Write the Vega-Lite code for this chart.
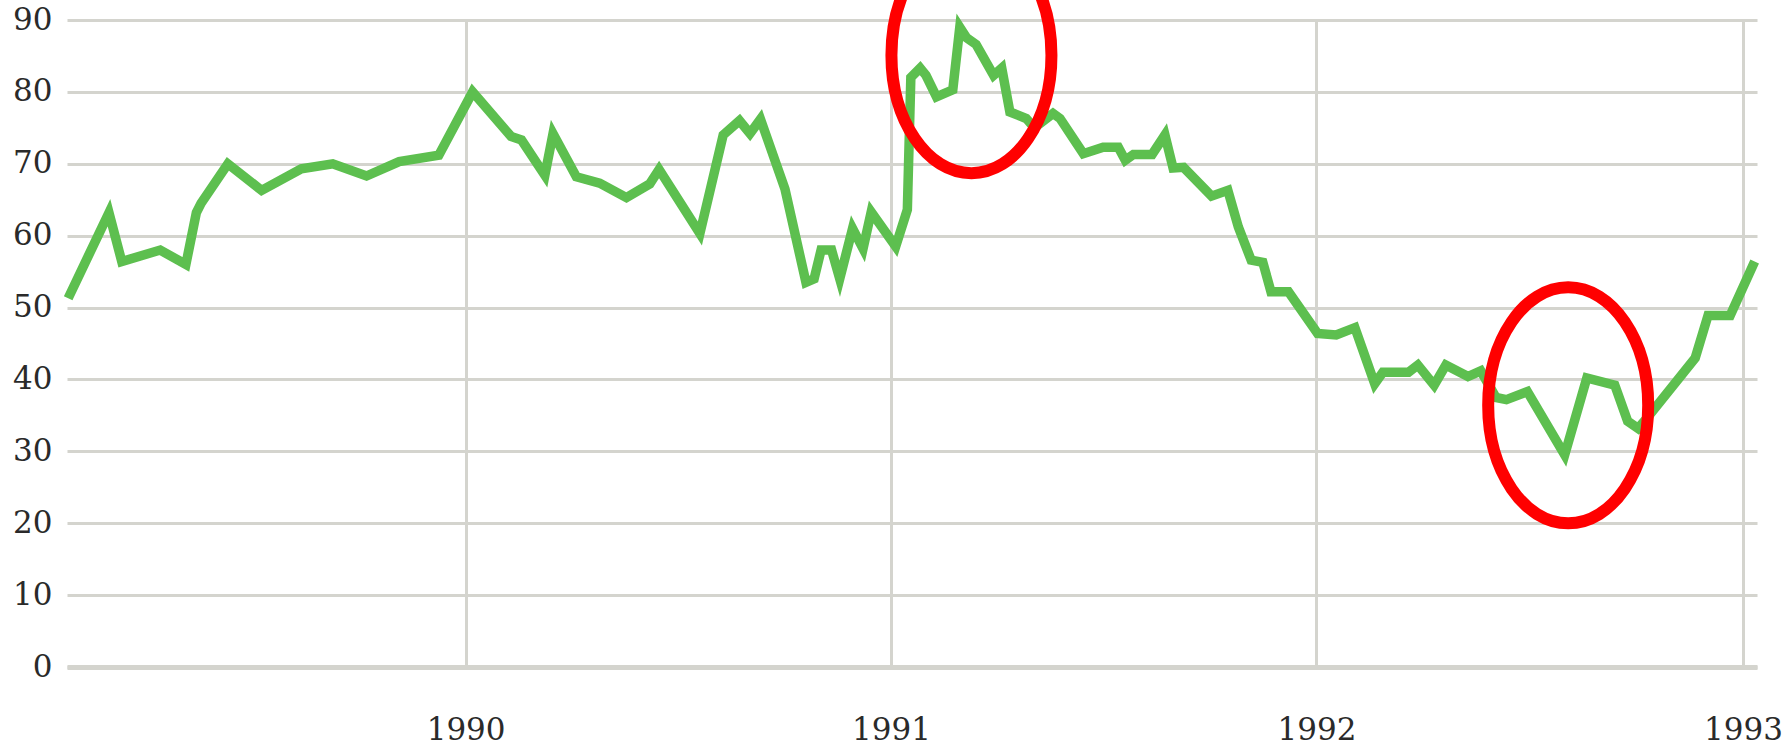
{
  "$schema": "https://vega.github.io/schema/vega-lite/v6.json",
  "width": 1690,
  "height": 647,
  "autosize": {"type": "none"},
  "padding": {"left": 67, "top": 20, "right": 32, "bottom": 85},
  "background": "white",
  "config": {
    "view": {"stroke": null},
    "axis": {
      "labelFont": "DejaVu Serif",
      "labelFontSize": 31,
      "labelColor": "#2a2a2a",
      "gridColor": "#d4d4ce",
      "gridWidth": 3,
      "gridOpacity": 1,
      "ticks": false,
      "title": null
    }
  },
  "layer": [
    {
      "data": {
        "values": [
          {"date": "1989-01-25", "value": 51.3},
          {"date": "1989-03-01", "value": 63.2},
          {"date": "1989-03-12", "value": 56.4},
          {"date": "1989-04-14", "value": 58.0},
          {"date": "1989-05-06", "value": 56.0},
          {"date": "1989-05-15", "value": 63.2},
          {"date": "1989-05-19", "value": 64.5},
          {"date": "1989-06-11", "value": 70.0},
          {"date": "1989-07-10", "value": 66.3},
          {"date": "1989-08-13", "value": 69.3},
          {"date": "1989-09-09", "value": 70.0},
          {"date": "1989-10-08", "value": 68.3},
          {"date": "1989-11-05", "value": 70.3},
          {"date": "1989-12-09", "value": 71.2},
          {"date": "1990-01-07", "value": 80.0},
          {"date": "1990-02-09", "value": 73.8},
          {"date": "1990-02-18", "value": 73.3},
          {"date": "1990-03-10", "value": 68.4},
          {"date": "1990-03-17", "value": 74.2},
          {"date": "1990-04-06", "value": 68.2},
          {"date": "1990-04-26", "value": 67.3},
          {"date": "1990-05-19", "value": 65.3},
          {"date": "1990-06-08", "value": 67.2},
          {"date": "1990-06-16", "value": 69.2},
          {"date": "1990-07-21", "value": 60.3},
          {"date": "1990-08-10", "value": 74.0},
          {"date": "1990-08-24", "value": 76.0},
          {"date": "1990-09-02", "value": 74.2},
          {"date": "1990-09-11", "value": 76.2},
          {"date": "1990-10-02", "value": 66.5},
          {"date": "1990-10-20", "value": 53.5},
          {"date": "1990-10-27", "value": 54.0},
          {"date": "1990-11-02", "value": 58.0},
          {"date": "1990-11-11", "value": 58.0},
          {"date": "1990-11-18", "value": 54.0},
          {"date": "1990-11-29", "value": 61.0},
          {"date": "1990-12-08", "value": 58.2},
          {"date": "1990-12-15", "value": 63.3},
          {"date": "1991-01-05", "value": 58.5},
          {"date": "1991-01-15", "value": 63.6},
          {"date": "1991-01-18", "value": 82.0},
          {"date": "1991-01-26", "value": 83.3},
          {"date": "1991-01-31", "value": 82.3},
          {"date": "1991-02-09", "value": 79.3},
          {"date": "1991-02-23", "value": 80.3},
          {"date": "1991-03-01", "value": 89.0},
          {"date": "1991-03-07", "value": 87.5},
          {"date": "1991-03-15", "value": 86.6},
          {"date": "1991-03-30", "value": 82.3},
          {"date": "1991-04-06", "value": 83.3},
          {"date": "1991-04-13", "value": 77.2},
          {"date": "1991-04-27", "value": 76.3},
          {"date": "1991-05-04", "value": 75.0},
          {"date": "1991-05-20", "value": 77.0},
          {"date": "1991-05-26", "value": 76.3},
          {"date": "1991-06-15", "value": 71.4},
          {"date": "1991-07-02", "value": 72.3},
          {"date": "1991-07-15", "value": 72.3},
          {"date": "1991-07-21", "value": 70.5},
          {"date": "1991-07-28", "value": 71.3},
          {"date": "1991-08-13", "value": 71.3},
          {"date": "1991-08-24", "value": 74.0},
          {"date": "1991-08-31", "value": 69.4},
          {"date": "1991-09-09", "value": 69.5},
          {"date": "1991-10-03", "value": 65.5},
          {"date": "1991-10-17", "value": 66.3},
          {"date": "1991-10-26", "value": 61.2},
          {"date": "1991-11-06", "value": 56.6},
          {"date": "1991-11-16", "value": 56.3},
          {"date": "1991-11-23", "value": 52.2},
          {"date": "1991-12-08", "value": 52.2},
          {"date": "1992-01-02", "value": 46.4},
          {"date": "1992-01-18", "value": 46.2},
          {"date": "1992-02-03", "value": 47.2},
          {"date": "1992-02-20", "value": 39.4},
          {"date": "1992-02-27", "value": 41.0},
          {"date": "1992-03-20", "value": 41.0},
          {"date": "1992-03-28", "value": 42.0},
          {"date": "1992-04-11", "value": 39.2},
          {"date": "1992-04-21", "value": 42.0},
          {"date": "1992-05-10", "value": 40.4},
          {"date": "1992-05-21", "value": 41.2},
          {"date": "1992-06-03", "value": 37.5},
          {"date": "1992-06-12", "value": 37.2},
          {"date": "1992-06-30", "value": 38.3},
          {"date": "1992-08-01", "value": 29.5},
          {"date": "1992-08-20", "value": 40.2},
          {"date": "1992-09-13", "value": 39.2},
          {"date": "1992-09-24", "value": 34.2},
          {"date": "1992-10-03", "value": 33.2},
          {"date": "1992-10-10", "value": 34.5},
          {"date": "1992-11-21", "value": 43.0},
          {"date": "1992-12-02", "value": 48.9},
          {"date": "1992-12-21", "value": 48.9},
          {"date": "1993-01-11", "value": 56.4}
        ]
      },
      "mark": {"type": "line", "color": "#5dbf4f", "strokeWidth": 9.5, "strokeJoin": "miter"},
      "encoding": {
        "x": {
          "field": "date",
          "type": "temporal",
          "scale": {
            "domain": [
              {"year": 1989, "month": 1, "date": 24, "utc": true},
              {"year": 1993, "month": 1, "date": 13, "utc": true}
            ]
          },
          "axis": {
            "values": [
              {"year": 1990, "month": 1, "date": 1, "utc": true},
              {"year": 1991, "month": 1, "date": 1, "utc": true},
              {"year": 1992, "month": 1, "date": 1, "utc": true},
              {"year": 1993, "month": 1, "date": 1, "utc": true}
            ],
            "format": "%Y",
            "formatType": "utc",
            "grid": true,
            "domain": true,
            "domainColor": "#d4d4ce",
            "domainWidth": 5,
            "labelPadding": 48,
            "labelFlush": false,
            "labelBaseline": "top"
          }
        },
        "y": {
          "field": "value",
          "type": "quantitative",
          "scale": {"domain": [0, 90], "nice": false, "zero": true},
          "axis": {
            "values": [0, 10, 20, 30, 40, 50, 60, 70, 80, 90],
            "grid": true,
            "domain": false,
            "labelPadding": 15,
            "labelBaseline": "middle",
            "labelOffset": 0
          }
        }
      }
    },
    {
      "data": {
        "values": [
          {"date": "1991-03-11", "value": 85.1},
          {"date": "1992-08-04", "value": 36.4}
        ]
      },
      "mark": {
        "type": "point",
        "shape": "M -0.678 0 A 0.678 1 0 1 0 0.678 0 A 0.678 1 0 1 0 -0.678 0 Z",
        "size": 55696,
        "filled": false,
        "color": "#ff0000",
        "strokeWidth": 12,
        "opacity": 1
      },
      "encoding": {
        "x": {"field": "date", "type": "temporal"},
        "y": {"field": "value", "type": "quantitative"}
      }
    }
  ]
}
